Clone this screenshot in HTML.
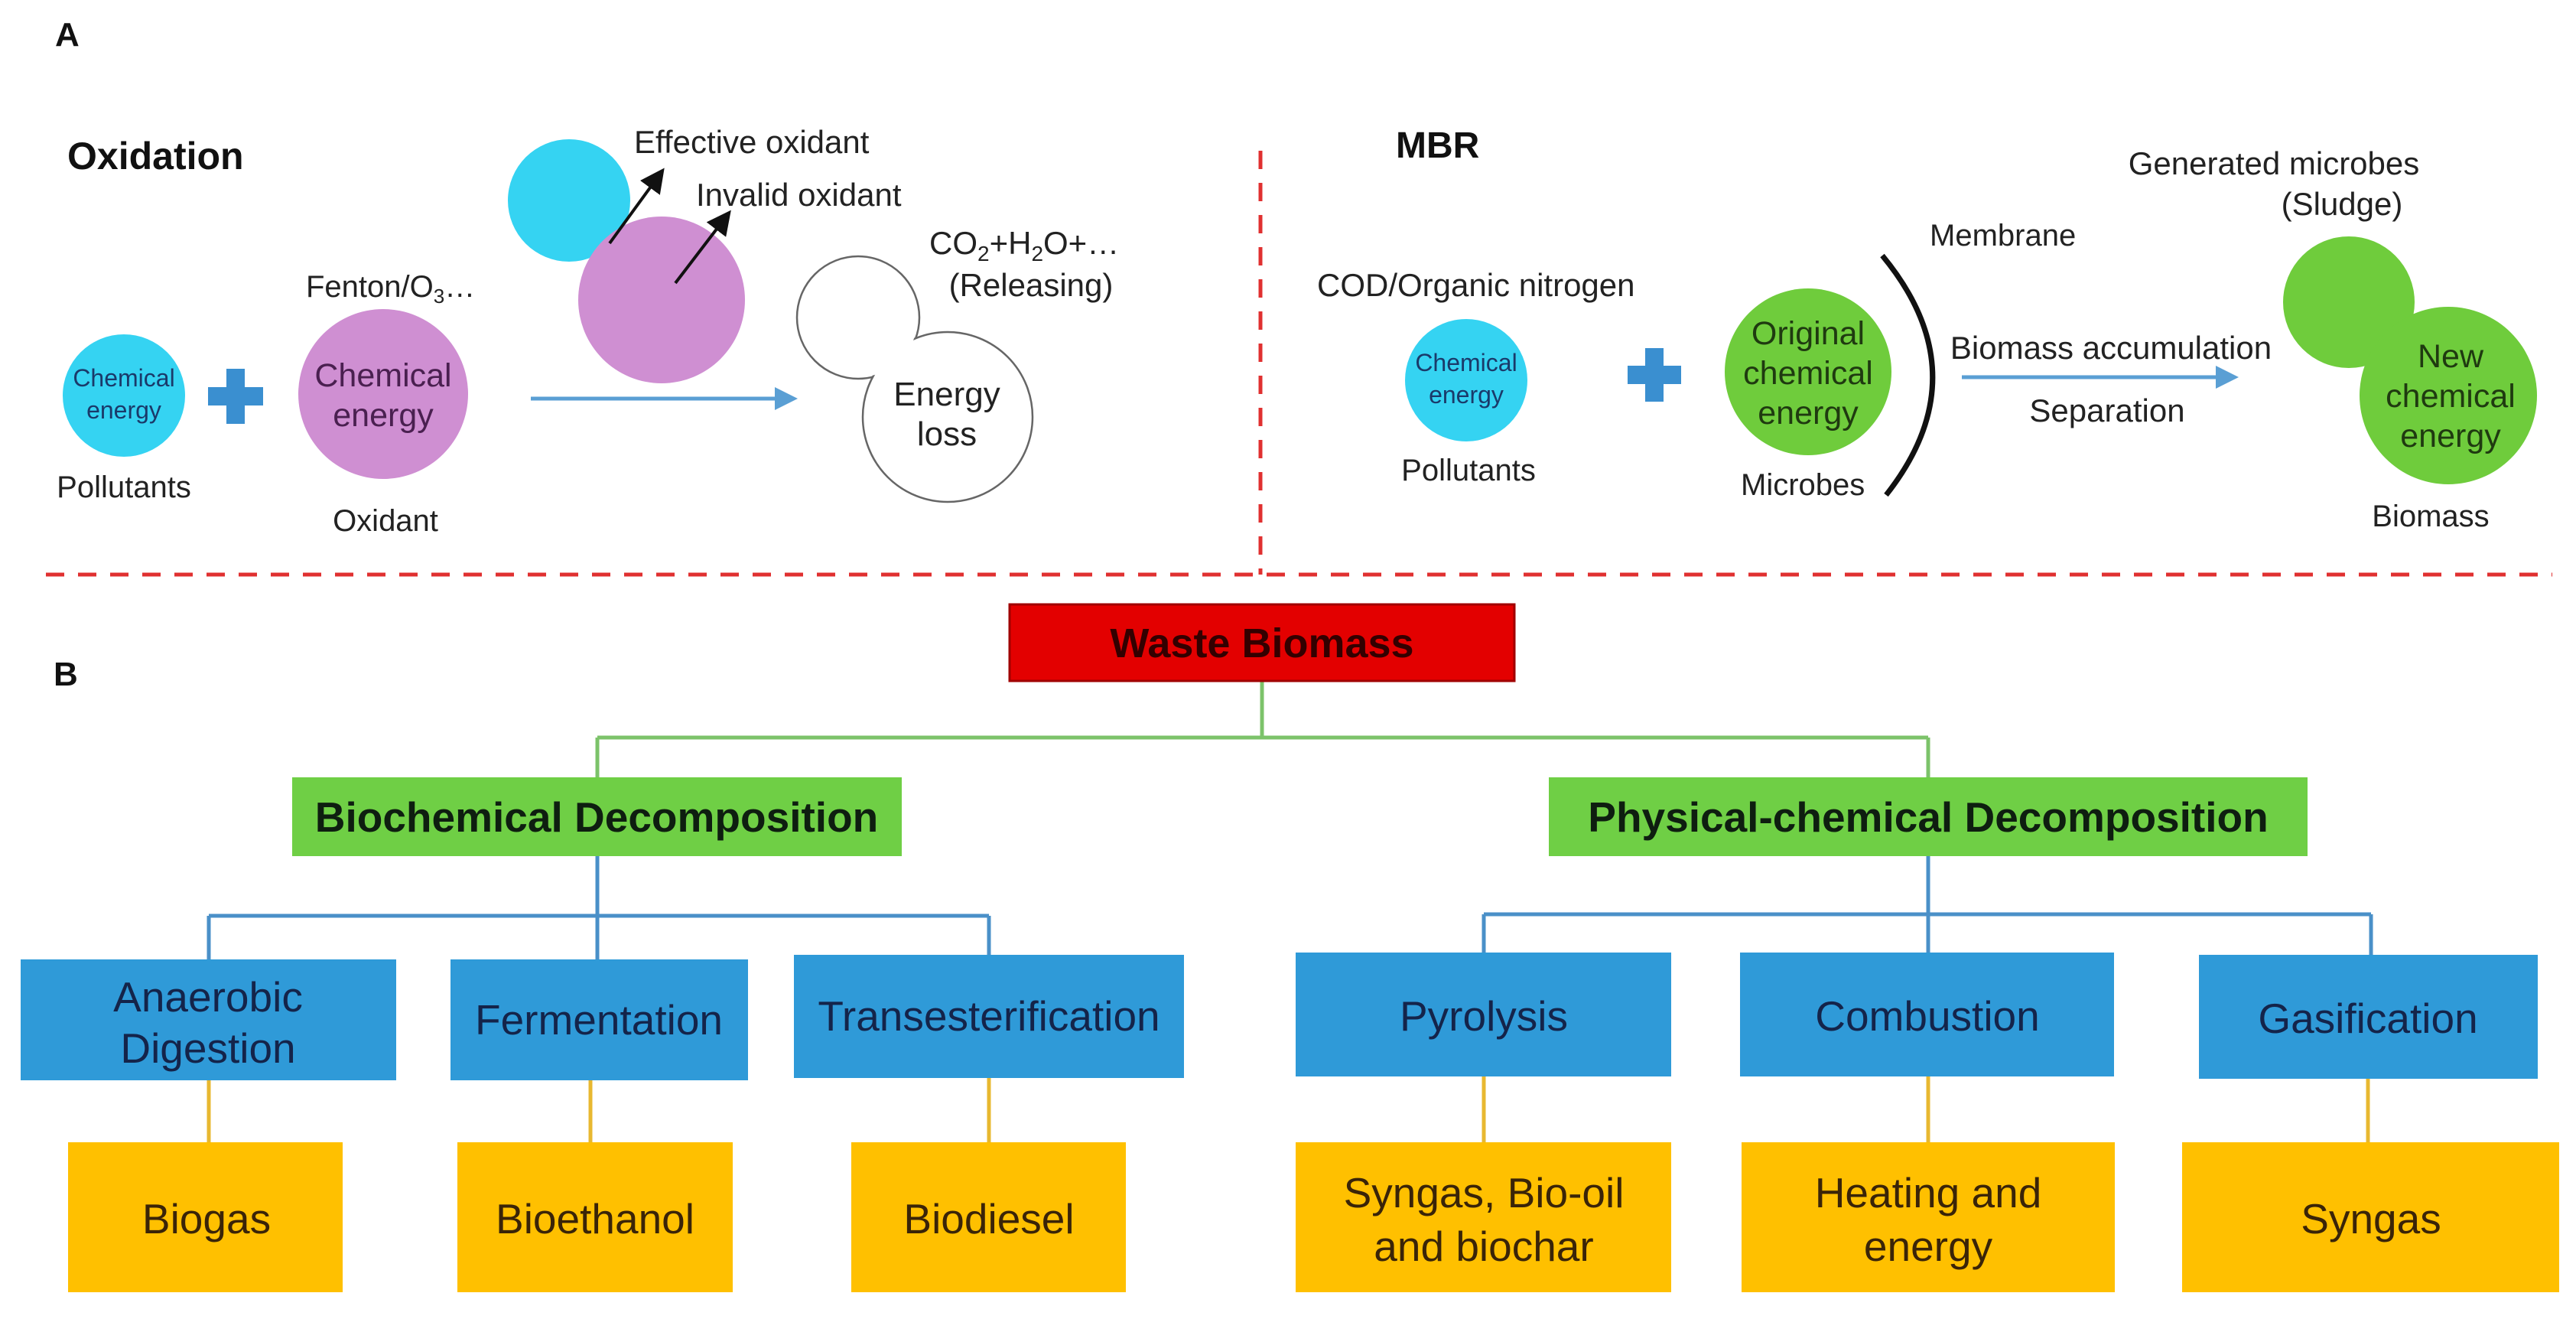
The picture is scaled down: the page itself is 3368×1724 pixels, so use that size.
<!DOCTYPE html>
<html><head><meta charset="utf-8"><style>
html,body{margin:0;padding:0;background:#fff;}
svg{display:block;font-family:"Liberation Sans",Arial,sans-serif;}
</style></head><body>
<svg width="3368" height="1724" viewBox="0 0 3368 1724" xmlns="http://www.w3.org/2000/svg">
<defs>
<marker id="ah" markerWidth="8" markerHeight="8" refX="6" refY="4" orient="auto" markerUnits="strokeWidth"><path d="M0,0 L8,4 L0,8 z" fill="#111"/></marker>
<marker id="bh" markerWidth="6" markerHeight="6" refX="5" refY="3" orient="auto" markerUnits="strokeWidth"><path d="M0,0 L6,3 L0,6 z" fill="#5a9fd4"/></marker>
</defs>
<line x1="1648" y1="197" x2="1648" y2="751" stroke="#e03030" stroke-width="5" stroke-dasharray="24,18"/>
<line x1="60" y1="751" x2="3337" y2="751" stroke="#e03030" stroke-width="5" stroke-dasharray="24,18"/>
<g fill="#111">
<text x="72" y="60" font-size="44" font-weight="bold">A</text>
<text x="88" y="221" font-size="50" font-weight="bold">Oxidation</text>
<text x="1825" y="206" font-size="48" font-weight="bold">MBR</text>
<text x="70" y="896" font-size="44" font-weight="bold">B</text>
</g>
<!-- Oxidation -->
<circle cx="162" cy="517" r="80" fill="#35d3f2"/>
<text font-size="32" fill="#1a3a6a" text-anchor="middle"><tspan x="162" y="505">Chemical</tspan><tspan x="162" y="547">energy</tspan></text>
<text x="162" y="650" font-size="40" fill="#222" text-anchor="middle">Pollutants</text>
<rect x="272" y="506" width="72" height="24" fill="#3a8fd0"/><rect x="296" y="482" width="24" height="72" fill="#3a8fd0"/>
<circle cx="501" cy="515" r="111" fill="#cf8fd2"/>
<text font-size="43" fill="#4a2050" text-anchor="middle"><tspan x="501" y="505">Chemical</tspan><tspan x="501" y="557">energy</tspan></text>
<text x="400" y="388" font-size="40" fill="#222">Fenton/O<tspan font-size="26" dy="8">3</tspan><tspan dy="-8">…</tspan></text>
<text x="504" y="694" font-size="40" fill="#222" text-anchor="middle">Oxidant</text>
<line x1="694" y1="521" x2="1038" y2="521" stroke="#5a9fd4" stroke-width="5" marker-end="url(#bh)"/>
<circle cx="744" cy="262" r="80" fill="#35d3f2"/>
<circle cx="865" cy="392" r="109" fill="#cf8fd2"/>
<line x1="797" y1="318" x2="864" y2="226" stroke="#111" stroke-width="4" marker-end="url(#ah)"/>
<line x1="883" y1="370" x2="951" y2="281" stroke="#111" stroke-width="4" marker-end="url(#ah)"/>
<text x="829" y="200" font-size="42" fill="#222">Effective oxidant</text>
<text x="910" y="269" font-size="42" fill="#222">Invalid oxidant</text>
<text x="1215" y="332" font-size="42" fill="#222">CO<tspan font-size="28" dy="9">2</tspan><tspan dy="-9">+H</tspan><tspan font-size="28" dy="9">2</tspan><tspan dy="-9">O+…</tspan></text>
<text x="1348" y="387" font-size="42" fill="#222" text-anchor="middle">(Releasing)</text>
<circle cx="1122" cy="415" r="80" fill="#fff" stroke="#666" stroke-width="2.5"/>
<circle cx="1239" cy="545" r="111" fill="#fff" stroke="#666" stroke-width="2.5"/>
<circle cx="1122" cy="415" r="78" fill="#fff"/>
<circle cx="1239" cy="545" r="109" fill="#fff"/>
<text font-size="44" fill="#222" text-anchor="middle"><tspan x="1238" y="530">Energy</tspan><tspan x="1238" y="582">loss</tspan></text>
<!-- MBR -->
<text x="1722" y="387" font-size="42" fill="#222">COD/Organic nitrogen</text>
<circle cx="1917" cy="497" r="80" fill="#35d3f2"/>
<text font-size="32" fill="#1a3a6a" text-anchor="middle"><tspan x="1917" y="485">Chemical</tspan><tspan x="1917" y="527">energy</tspan></text>
<text x="1920" y="628" font-size="40" fill="#222" text-anchor="middle">Pollutants</text>
<rect x="2128" y="478" width="70" height="24" fill="#3a8fd0"/><rect x="2151" y="455" width="24" height="70" fill="#3a8fd0"/>
<circle cx="2364" cy="486" r="109" fill="#6fcc3c"/>
<text font-size="43" fill="#1f3a10" text-anchor="middle"><tspan x="2364" y="450">Original</tspan><tspan x="2364" y="502">chemical</tspan><tspan x="2364" y="554">energy</tspan></text>
<path d="M2461,334 Q2590,490 2466,647" fill="none" stroke="#111" stroke-width="7"/>
<text x="2523" y="321" font-size="40" fill="#222">Membrane</text>
<text x="2276" y="647" font-size="40" fill="#222">Microbes</text>
<text x="2760" y="469" font-size="42" fill="#222" text-anchor="middle">Biomass accumulation</text>
<line x1="2565" y1="493" x2="2922" y2="493" stroke="#5a9fd4" stroke-width="5" marker-end="url(#bh)"/>
<text x="2755" y="551" font-size="42" fill="#222" text-anchor="middle">Separation</text>
<text x="2973" y="228" font-size="42" fill="#222" text-anchor="middle">Generated microbes</text>
<text x="3062" y="281" font-size="42" fill="#222" text-anchor="middle">(Sludge)</text>
<circle cx="3071" cy="395" r="86" fill="#6fcc3c"/>
<circle cx="3201" cy="517" r="116" fill="#6fcc3c"/>
<text font-size="43" fill="#1f3a10" text-anchor="middle"><tspan x="3204" y="480">New</tspan><tspan x="3204" y="532">chemical</tspan><tspan x="3204" y="584">energy</tspan></text>
<text x="3178" y="688" font-size="40" fill="#222" text-anchor="middle">Biomass</text>
<!-- B tree connectors -->
<g fill="none" stroke-width="5">
<path d="M1650,890 V964 M781,964 H2521 M781,964 V1016 M2521,964 V1016" stroke="#7cc36a"/>
<path d="M781,1119 V1254 M273,1197 H1293 M273,1197 V1254 M1293,1197 V1248 M2521,1119 V1245 M1940,1195 H3100 M1940,1195 V1245 M3100,1195 V1248" stroke="#4a90c8"/>
<path d="M273,1412 V1493 M772,1412 V1493 M1293,1409 V1493 M1940,1407 V1493 M2521,1407 V1493 M3096,1410 V1493" stroke="#e8b830"/>
</g>
<rect x="1320" y="790" width="660" height="100" fill="#e30000" stroke="#a00000" stroke-width="3"/>
<text x="1650" y="859" font-size="54" font-weight="bold" fill="#300" text-anchor="middle">Waste Biomass</text>
<rect x="382" y="1016" width="797" height="103" fill="#6fcf45"/>
<text x="780" y="1087" font-size="55" font-weight="bold" fill="#0e1e10" text-anchor="middle">Biochemical Decomposition</text>
<rect x="2025" y="1016" width="992" height="103" fill="#6fcf45"/>
<text x="2521" y="1087" font-size="55" font-weight="bold" fill="#0e1e10" text-anchor="middle">Physical-chemical Decomposition</text>
<g fill="#2f9ad8">
<rect x="27" y="1254" width="491" height="158"/>
<rect x="589" y="1254" width="389" height="158"/>
<rect x="1038" y="1248" width="510" height="161"/>
<rect x="1694" y="1245" width="491" height="162"/>
<rect x="2275" y="1245" width="489" height="162"/>
<rect x="2875" y="1248" width="443" height="162"/>
</g>
<g font-size="55" fill="#14244a" text-anchor="middle">
<text><tspan x="272" y="1322">Anaerobic</tspan><tspan x="272" y="1389">Digestion</tspan></text>
<text x="783" y="1352">Fermentation</text>
<text x="1293" y="1347">Transesterification</text>
<text x="1940" y="1347">Pyrolysis</text>
<text x="2520" y="1347">Combustion</text>
<text x="3096" y="1350">Gasification</text>
</g>
<g fill="#ffc000">
<rect x="89" y="1493" width="359" height="196"/>
<rect x="598" y="1493" width="360" height="196"/>
<rect x="1113" y="1493" width="359" height="196"/>
<rect x="1694" y="1493" width="491" height="196"/>
<rect x="2277" y="1493" width="488" height="196"/>
<rect x="2853" y="1493" width="493" height="196"/>
</g>
<g font-size="55" fill="#3a2408" text-anchor="middle">
<text x="270" y="1612">Biogas</text>
<text x="778" y="1612">Bioethanol</text>
<text x="1293" y="1612">Biodiesel</text>
<text><tspan x="1940" y="1578">Syngas, Bio-oil</tspan><tspan x="1940" y="1648">and biochar</tspan></text>
<text><tspan x="2521" y="1578">Heating and</tspan><tspan x="2521" y="1648">energy</tspan></text>
<text x="3100" y="1612">Syngas</text>
</g>
</svg>
</body></html>
